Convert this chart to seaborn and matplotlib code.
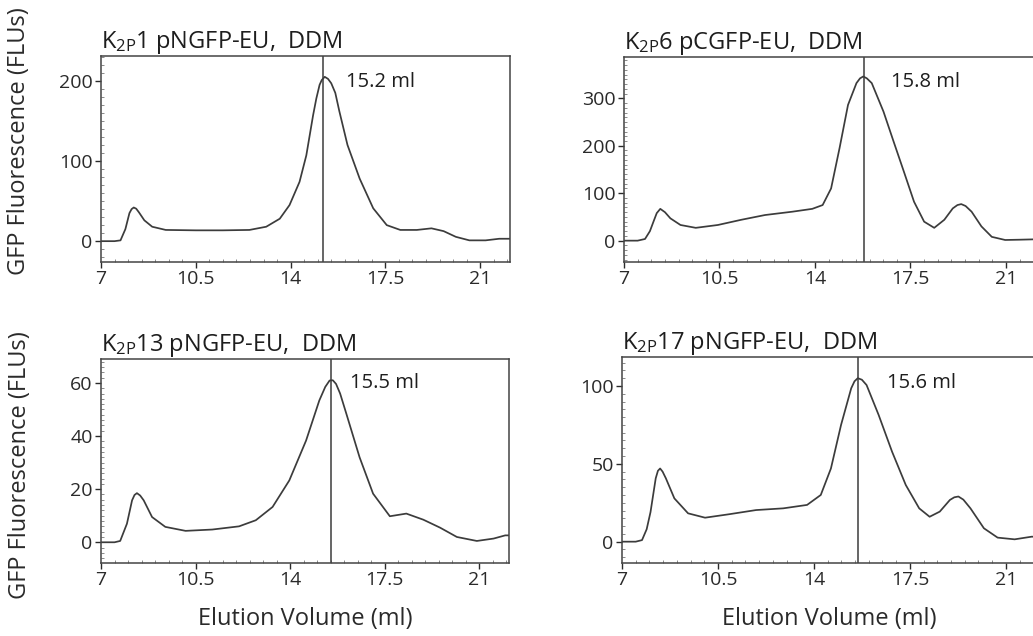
import matplotlib
matplotlib.use("Agg")
import matplotlib.pyplot as plt
from matplotlib.ticker import MultipleLocator
import seaborn as sns
import pandas as pd

# --- data (elution volume in ml, GFP fluorescence in FLUs) ---
k2p1_x = [7.0, 7.5, 7.72, 7.9, 8.05, 8.13, 8.21, 8.3, 8.4, 8.6, 8.89, 9.39, 10.5, 11.5, 12.48, 13.1,
          13.6, 13.96, 14.33, 14.58, 14.83, 14.95, 15.07, 15.15, 15.26, 15.38, 15.5, 15.65, 15.8,
          16.1, 16.55, 17.05, 17.55, 18.05, 18.66, 19.2, 19.65, 20.1, 20.6, 21.2, 21.7, 22.1]
k2p1_y = [0, 0, 1, 15, 35, 40, 42, 40.5, 36, 26, 18, 14, 13.5, 13.5, 14, 18,
          28, 45, 74, 107, 157, 178, 195, 201, 205, 202.5, 197, 185, 162,
          120, 78, 41, 20, 14, 14, 16, 12.5, 5.4, 1, 1, 3, 3]

k2p6_x = [7.0, 7.5, 7.77, 7.95, 8.08, 8.2, 8.33, 8.5, 8.7, 9.07, 9.63, 10.44, 11.3, 12.17, 13.17, 13.9,
          14.28, 14.59, 14.9, 15.21, 15.52, 15.65, 15.77, 15.9, 16.08, 16.51, 16.88, 17.26, 17.63,
          18.0, 18.37, 18.74, 19.05, 19.22, 19.36, 19.52, 19.74, 20.1, 20.48, 20.97, 21.5, 22.2]
k2p6_y = [0, 0, 3.5, 20, 40, 58, 67, 60, 47, 33, 27, 33, 44, 54, 61, 67,
          75, 110, 195, 286, 332, 342, 346, 342, 332, 272, 209, 145, 82,
          40, 27, 44, 68, 75, 77, 73, 61, 30, 8, 1.4, 2, 3]

k2p13_x = [7.0, 7.5, 7.71, 7.96, 8.15, 8.24, 8.33, 8.45, 8.58, 8.89, 9.38, 10.13, 11.12, 12.11, 12.73,
           13.35, 13.97, 14.59, 15.08, 15.3, 15.46, 15.58, 15.7, 15.85, 16.08, 16.57, 17.07, 17.69,
           18.3, 18.93, 19.55, 20.17, 20.91, 21.53, 21.96, 22.15]
k2p13_y = [0, 0, 0.5, 7, 15.8, 17.8, 18.5, 17.6, 15.8, 9.5, 5.8, 4.3, 4.8, 6, 8.3,
           13.3, 23.3, 38.3, 53.4, 58.5, 60.9, 61, 59.6, 56, 48.4, 32, 18.3, 9.8,
           10.8, 8.5, 5.5, 2, 0.5, 1.4, 2.6, 2.6]

k2p17_x = [7.0, 7.5, 7.73, 7.9, 8.04, 8.23, 8.31, 8.39, 8.48, 8.6, 8.91, 9.41, 10.03, 10.9, 11.89,
           12.88, 13.75, 14.25, 14.62, 14.99, 15.36, 15.48, 15.6, 15.75, 15.92, 16.36, 16.85, 17.35,
           17.84, 18.22, 18.59, 18.96, 19.12, 19.27, 19.45, 19.71, 20.2, 20.7, 21.32, 21.94, 22.3]
k2p17_y = [0, 0, 1, 8, 19, 40.7, 45.5, 47, 45, 40.7, 27.8, 18.2, 15.4, 17.6, 20.3,
           21.4, 23.6, 30, 47, 75, 98.5, 103, 105, 104, 100.6, 81.4, 57.8, 36.4,
           21.4, 16, 19.3, 26.8, 28.5, 29, 27, 21.4, 8.6, 2.6, 1.5, 3.2, 3.2]

titles = ["K$_{2P}$1 pNGFP-EU,  DDM", "K$_{2P}$6 pCGFP-EU,  DDM",
          "K$_{2P}$13 pNGFP-EU,  DDM", "K$_{2P}$17 pNGFP-EU,  DDM"]
peaks = [15.2, 15.8, 15.5, 15.6]
peak_labels = ["15.2 ml", "15.8 ml", "15.5 ml", "15.6 ml"]
label_pos = [(16.05, 199), (16.8, 334), (16.2, 60), (16.65, 102)]
ylims = [(-26, 231), (-45, 387), (-7.8, 69), (-13.7, 118.6)]
yticks = [[0, 100, 200], [0, 100, 200, 300], [0, 20, 40, 60], [0, 50, 100]]
yminor = [10, 10, 2, 5]
xticks = [7, 10.5, 14, 17.5, 21]
xtick_labels = ["7", "10.5", "14", "17.5", "21"]

curves = [(k2p1_x, k2p1_y), (k2p6_x, k2p6_y), (k2p13_x, k2p13_y), (k2p17_x, k2p17_y)]

sns.set_theme(style="ticks")
plt.rcParams["font.family"] = ["Open Sans", "DejaVu Sans"]
plt.rcParams["mathtext.default"] = "regular"

W, H = 1033, 636
fig = plt.figure(figsize=(W / 100, H / 100), dpi=100)

# axes boxes in pixels: left, top, right, bottom
boxes = [(101, 56, 510, 262), (624, 57, 1036, 262),
         (101, 359, 509, 563), (622, 357, 1036, 563)]
ylabel_y = [0.585, None, 0.48, None]

line_col = "#3c3c3c"
text_col = "#1e1e1e"
for i, (box, (xs, ys)) in enumerate(zip(boxes, curves)):
    l, t, r, b = box
    ax = fig.add_axes([l / W, (H - b) / H, (r - l) / W, (b - t) / H])
    df = pd.DataFrame({"vol": xs, "gfp": ys})
    sns.lineplot(data=df, x="vol", y="gfp", ax=ax, color=line_col, linewidth=1.25)
    ax.axvline(peaks[i], color=line_col, linewidth=1.1)
    ax.text(label_pos[i][0], label_pos[i][1], peak_labels[i], fontsize=14.5,
            color=text_col, va="center", ha="left")

    ax.set_xlim(7, 22.1)
    ax.set_ylim(*ylims[i])
    ax.set_xticks(xticks)
    ax.set_xticklabels(xtick_labels)
    ax.set_yticks(yticks[i])
    ax.xaxis.set_minor_locator(MultipleLocator(0.5))
    ax.yaxis.set_minor_locator(MultipleLocator(yminor[i]))
    ax.tick_params(which="major", direction="out", length=4, width=1,
                   labelsize=14, colors="#2a2a2a", pad=2)
    ax.tick_params(which="minor", direction="in", length=2, width=0.6, color="#777777")
    for s in ax.spines.values():
        s.set_color("#444444")
        s.set_linewidth(1.1)

    ax.set_title(titles[i], loc="left", fontsize=17, color=text_col, pad=6)

    if i % 2 == 0:
        ax.set_ylabel("GFP Fluorescence (FLUs)", fontsize=17, color="#2a2a2a")
        ax.yaxis.set_label_coords(-0.17, ylabel_y[i])
    else:
        ax.set_ylabel("")
    if i >= 2:
        ax.set_xlabel("Elution Volume (ml)", fontsize=17, color="#2a2a2a")
        ax.xaxis.set_label_coords(0.5, -0.215)
    else:
        ax.set_xlabel("")

fig.savefig("out.png", dpi=100)
